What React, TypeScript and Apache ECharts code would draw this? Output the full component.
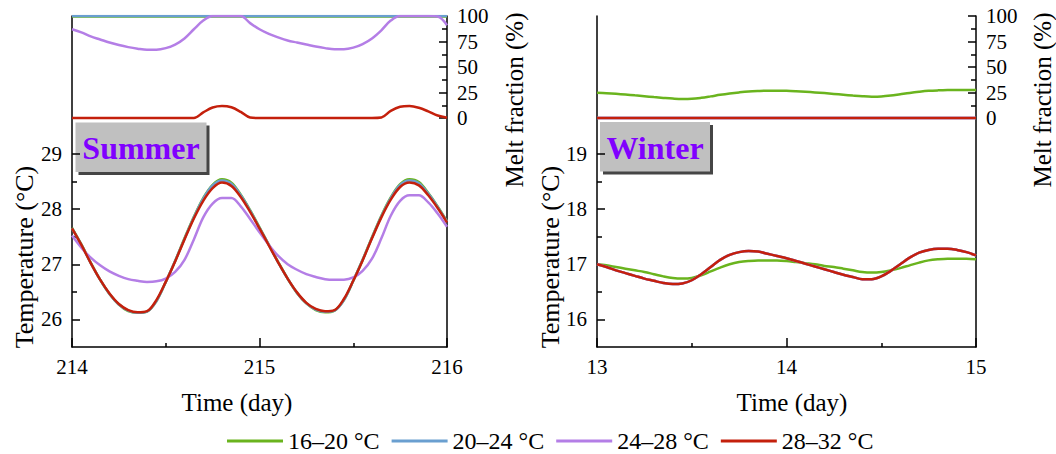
import React, { useEffect, useRef } from "react";
import * as echarts from "echarts";

const FONT = "Liberation Serif";

const seriesNames = ["16–20 °C", "20–24 °C", "24–28 °C", "28–32 °C"];
const seriesColors = ["#6ab41e", "#6a9fd0", "#b47ee6", "#c4200c"];

// Summer: day 214–216, every 0.05 day
const summerTime = [
  214.0, 214.05, 214.1, 214.15, 214.2, 214.25, 214.3, 214.35, 214.4, 214.45,
  214.5, 214.55, 214.6, 214.65, 214.7, 214.75, 214.8, 214.85, 214.9, 214.95,
  215.0, 215.05, 215.1, 215.15, 215.2, 215.25, 215.3, 215.35, 215.4, 215.45,
  215.5, 215.55, 215.6, 215.65, 215.7, 215.75, 215.8, 215.85, 215.9, 215.95, 216.0,
];
const summerTemp1620 = [
  27.66, 27.36, 27.03, 26.72, 26.46, 26.27, 26.15, 26.12, 26.14, 26.33,
  26.68, 27.06, 27.47, 27.86, 28.2, 28.44, 28.54, 28.48, 28.26, 27.98,
  27.67, 27.35, 27.04, 26.74, 26.48, 26.29, 26.17, 26.13, 26.16, 26.35,
  26.7, 27.08, 27.49, 27.88, 28.21, 28.45, 28.54, 28.49, 28.29, 28.05, 27.78,
];
const summerTemp2024 = [
  27.65, 27.35, 27.02, 26.72, 26.46, 26.27, 26.16, 26.12, 26.14, 26.33,
  26.68, 27.06, 27.46, 27.85, 28.19, 28.43, 28.52, 28.46, 28.25, 27.97,
  27.66, 27.35, 27.03, 26.74, 26.48, 26.29, 26.18, 26.14, 26.16, 26.35,
  26.7, 27.08, 27.48, 27.87, 28.2, 28.44, 28.52, 28.47, 28.28, 28.04, 27.77,
];
const summerTemp2428 = [
  27.52, 27.3, 27.12, 26.98, 26.87, 26.79, 26.73, 26.7, 26.68, 26.69,
  26.74, 26.86, 27.08, 27.45, 27.85, 28.1, 28.2, 28.2, 28.05, 27.82,
  27.58, 27.35, 27.15, 27.0, 26.9, 26.82, 26.77, 26.73, 26.72, 26.72,
  26.76, 26.88, 27.1, 27.47, 27.88, 28.15, 28.25, 28.25, 28.12, 27.92, 27.68,
];
const summerTemp2832 = [
  27.65, 27.35, 27.02, 26.72, 26.47, 26.28, 26.17, 26.13, 26.15, 26.35,
  26.68, 27.05, 27.45, 27.83, 28.15, 28.38, 28.48, 28.42, 28.22, 27.95,
  27.65, 27.34, 27.03, 26.74, 26.49, 26.3, 26.19, 26.15, 26.17, 26.37,
  26.7, 27.07, 27.47, 27.85, 28.17, 28.4, 28.48, 28.43, 28.25, 28.02, 27.76,
];
const summerMelt1620 = [
  99.5, 99.5, 99.5, 99.5, 99.5, 99.5, 99.5, 99.5, 99.5, 99.5,
  99.5, 99.5, 99.5, 99.5, 99.5, 99.5, 99.5, 99.5, 99.5, 99.5,
  99.5, 99.5, 99.5, 99.5, 99.5, 99.5, 99.5, 99.5, 99.5, 99.5,
  99.5, 99.5, 99.5, 99.5, 99.5, 99.5, 99.5, 99.5, 99.5, 99.5, 99.5,
];
const summerMelt2024 = [
  100, 100, 100, 100, 100, 100, 100, 100, 100, 100,
  100, 100, 100, 100, 100, 100, 100, 100, 100, 100,
  100, 100, 100, 100, 100, 100, 100, 100, 100, 100,
  100, 100, 100, 100, 100, 100, 100, 100, 100, 100, 100,
];
const summerMelt2428 = [
  87, 84, 80, 77, 74, 71.5, 69.5, 68, 67, 67,
  68.5, 72, 78, 87, 95.5, 100, 100, 100, 100, 93,
  87, 82.5, 79, 76, 74, 72, 70, 68.5, 67.5, 67.5,
  69, 72.5, 78, 86, 95.5, 100, 100, 100, 100, 99.5, 91,
];
const summerMelt2832 = [
  0, 0, 0, 0, 0, 0, 0, 0, 0, 0,
  0, 0, 0, 0, 5.5, 10.3, 11.8, 10.5, 6, 0.5,
  0, 0, 0, 0, 0, 0, 0, 0, 0, 0,
  0, 0, 0, 0.5, 7, 11, 11.7, 10, 6.5, 2.5, 0.3,
];

// Winter: day 13–15, every 0.05 day
const winterTime = [
  13.0, 13.05, 13.1, 13.15, 13.2, 13.25, 13.3, 13.35, 13.4, 13.45,
  13.5, 13.55, 13.6, 13.65, 13.7, 13.75, 13.8, 13.85, 13.9, 13.95,
  14.0, 14.05, 14.1, 14.15, 14.2, 14.25, 14.3, 14.35, 14.4, 14.45,
  14.5, 14.55, 14.6, 14.65, 14.7, 14.75, 14.8, 14.85, 14.9, 14.95, 15.0,
];
const winterTemp1620 = [
  17.0, 16.98, 16.95, 16.92, 16.89, 16.86, 16.82, 16.78, 16.75, 16.74,
  16.75, 16.8, 16.87, 16.94, 17.0, 17.04, 17.06, 17.07, 17.07, 17.07,
  17.06, 17.04, 17.02, 17.0, 16.97, 16.95, 16.92, 16.89, 16.86, 16.85,
  16.86, 16.89, 16.93, 16.98, 17.03, 17.07, 17.09, 17.1, 17.1, 17.1, 17.09,
];
const winterTemp2024 = [
  17.0, 16.95, 16.89, 16.84, 16.79, 16.74, 16.7, 16.66, 16.64, 16.65,
  16.71, 16.82, 16.95, 17.08, 17.17, 17.22, 17.24, 17.23, 17.19, 17.15,
  17.11, 17.06, 17.01, 16.96, 16.91, 16.86, 16.81, 16.77, 16.73, 16.73,
  16.78, 16.88, 17.0, 17.12, 17.21, 17.26, 17.28, 17.28, 17.26, 17.22, 17.16,
];
const winterTemp2428 = [
  17.0, 16.95, 16.89, 16.84, 16.79, 16.74, 16.7, 16.66, 16.64, 16.65,
  16.71, 16.82, 16.95, 17.08, 17.17, 17.22, 17.24, 17.23, 17.19, 17.15,
  17.11, 17.06, 17.01, 16.96, 16.91, 16.86, 16.81, 16.77, 16.73, 16.73,
  16.78, 16.88, 17.0, 17.12, 17.21, 17.26, 17.28, 17.28, 17.26, 17.22, 17.16,
];
const winterTemp2832 = [
  17.0, 16.95, 16.89, 16.84, 16.79, 16.74, 16.7, 16.66, 16.64, 16.65,
  16.71, 16.82, 16.95, 17.08, 17.17, 17.22, 17.24, 17.23, 17.19, 17.15,
  17.11, 17.06, 17.01, 16.96, 16.91, 16.86, 16.81, 16.77, 16.73, 16.73,
  16.78, 16.88, 17.0, 17.12, 17.21, 17.26, 17.28, 17.28, 17.26, 17.22, 17.16,
];
const winterMelt1620 = [
  24.8, 24.3, 23.7, 23.0, 22.2, 21.4, 20.5, 19.7, 19.0, 18.6,
  18.8, 19.8, 21.2, 22.7, 24.0, 25.1, 26.0, 26.5, 26.8, 26.8,
  26.6, 26.2, 25.7, 25.1, 24.4, 23.6, 22.8, 22.0, 21.3, 20.9,
  21.1, 22.0, 23.3, 24.6, 25.7, 26.6, 27.1, 27.4, 27.5, 27.5, 27.4,
];
const winterMelt2024 = [
  0, 0, 0, 0, 0, 0, 0, 0, 0, 0, 0, 0, 0, 0, 0, 0, 0, 0, 0, 0,
  0, 0, 0, 0, 0, 0, 0, 0, 0, 0, 0, 0, 0, 0, 0, 0, 0, 0, 0, 0, 0,
];
const winterMelt2428 = [
  0, 0, 0, 0, 0, 0, 0, 0, 0, 0, 0, 0, 0, 0, 0, 0, 0, 0, 0, 0,
  0, 0, 0, 0, 0, 0, 0, 0, 0, 0, 0, 0, 0, 0, 0, 0, 0, 0, 0, 0, 0,
];
const winterMelt2832 = [
  0, 0, 0, 0, 0, 0, 0, 0, 0, 0, 0, 0, 0, 0, 0, 0, 0, 0, 0, 0,
  0, 0, 0, 0, 0, 0, 0, 0, 0, 0, 0, 0, 0, 0, 0, 0, 0, 0, 0, 0, 0,
];

const summerTempTicks = [26, 27, 28, 29];
const summerTempMinor = [26.5, 27.5, 28.5];
const winterTempTicks = [16, 17, 18, 19];
const winterTempMinor = [16.5, 17.5, 18.5];
const meltTicks = [0, 25, 50, 75, 100];
const meltMinor = [12.5, 37.5, 62.5, 87.5];

const pair = (t: number[], v: number[]) => t.map((x, i) => [x, v[i]]);

export default function App() {
  const ref = useRef<HTMLDivElement>(null);
  useEffect(() => {
    document.body.style.margin = "0";
    const chart = echarts.init(ref.current!, null, { renderer: "svg" });
    const black = "#000";
    const panels = [
      {
        left: 72, right: 1056 - 447, xmin: 214, xmax: 216,
        tmin: 25.5, tmax: 31.5, tt: summerTempTicks, tm: summerTempMinor,
        time: summerTime,
        temps: [summerTemp1620, summerTemp2024, summerTemp2428, summerTemp2832],
        melts: [summerMelt1620, summerMelt2024, summerMelt2428, summerMelt2832],
      },
      {
        left: 597, right: 1056 - 976, xmin: 13, xmax: 15,
        tmin: 15.5, tmax: 21.5, tt: winterTempTicks, tm: winterTempMinor,
        time: winterTime,
        temps: [winterTemp1620, winterTemp2024, winterTemp2428, winterTemp2832],
        melts: [winterMelt1620, winterMelt2024, winterMelt2428, winterMelt2832],
      },
    ];
    const grid: any[] = [];
    const xAxis: any[] = [];
    const yAxis: any[] = [];
    const series: any[] = [];
    const rich = { v: { color: black, fontFamily: FONT, fontSize: 21 } };
    const lbl = { color: black, fontFamily: FONT, fontSize: 21, formatter: "{v|{value}}", rich };
    panels.forEach((p, i) => {
      grid.push({ left: p.left, right: p.right, top: 16, bottom: 454 - 347 });
      xAxis.push({
        type: "value", gridIndex: i, min: p.xmin, max: p.xmax, interval: 1,
        axisLine: { show: true, onZero: false, lineStyle: { color: black, width: 1.5 } },
        axisTick: { show: true, inside: true, length: 9, lineStyle: { color: black, width: 1.5 } },
        minorTick: { show: true, splitNumber: 2, length: 4, lineStyle: { color: black, width: 1.5 } },
        axisLabel: { ...lbl, margin: 9, showMinLabel: true, showMaxLabel: true },
        splitLine: { show: false },
      });
      const base = {
        type: "value", gridIndex: i, splitLine: { show: false },
      };
      yAxis.push({
        ...base, position: "left", min: p.tmin, max: p.tmax,
        axisLine: { show: true, onZero: false, lineStyle: { color: black, width: 1.5 } },
        axisTick: { show: true, inside: true, length: 8, customValues: p.tt, lineStyle: { color: black, width: 1.5 } },
        axisLabel: { ...lbl, margin: 10, customValues: p.tt },
      });
      yAxis.push({
        ...base, position: "left", min: p.tmin, max: p.tmax,
        axisLine: { show: false },
        axisTick: { show: true, inside: true, length: 5, customValues: p.tm, lineStyle: { color: black, width: 1.5 } },
        axisLabel: { show: false },
      });
      yAxis.push({
        ...base, position: "right", min: -224.5, max: 100,
        axisLine: { show: true, onZero: false, lineStyle: { color: black, width: 1.5 } },
        axisTick: { show: true, inside: true, length: 8, customValues: meltTicks, lineStyle: { color: black, width: 1.5 } },
        axisLabel: { ...lbl, margin: 10, customValues: meltTicks },
      });
      yAxis.push({
        ...base, position: "right", min: -224.5, max: 100,
        axisLine: { show: false },
        axisTick: { show: true, inside: true, length: 5, customValues: meltMinor, lineStyle: { color: black, width: 1.5 } },
        axisLabel: { show: false },
      });
      for (let k = 0; k < 4; k++) {
        series.push({
          type: "line", name: seriesNames[k], xAxisIndex: i, yAxisIndex: i * 4 + 2,
          data: pair(p.time, p.melts[k]), showSymbol: false, symbol: "none", smooth: 0.35,
          lineStyle: { width: 2.5, color: seriesColors[k] }, itemStyle: { color: seriesColors[k] },
          z: 2 + k,
        });
      }
      for (let k = 0; k < 4; k++) {
        series.push({
          type: "line", name: seriesNames[k], xAxisIndex: i, yAxisIndex: i * 4,
          data: pair(p.time, p.temps[k]), showSymbol: false, symbol: "none", smooth: 0.35,
          lineStyle: { width: 2.5, color: seriesColors[k] }, itemStyle: { color: seriesColors[k] },
          z: 2 + k,
        });
      }
    });

    const title = (text: string, x: number, y: number, rot: number, size: number) => ({
      type: "text", x, y, rotation: rot, z: 100,
      style: {
        text, fill: black, fontFamily: FONT, fontSize: size,
        textAlign: "center", textVerticalAlign: "middle", align: "center", verticalAlign: "middle",
      },
    });
    const box = (text: string, x: number, y: number, w: number, h: number) => ({
      type: "group", z: 100,
      children: [
        { type: "rect", shape: { x: x + 3, y: y + 3, width: w, height: h }, style: { fill: "#454545" } },
        { type: "rect", shape: { x, y, width: w, height: h }, style: { fill: "#c0c0c0" } },
        {
          type: "text", x: x + w / 2, y: y + h / 2 + 1,
          style: {
            text, fill: "#8000ff", fontFamily: FONT, fontSize: 32, fontWeight: "bold",
            textAlign: "center", textVerticalAlign: "middle", align: "center", verticalAlign: "middle",
          },
        },
      ],
    });

    chart.setOption({
      animation: false,
      textStyle: { fontFamily: FONT, color: black },
      grid, xAxis, yAxis, series,
      legend: {
        data: seriesNames, left: 222, top: 424, icon: "rect",
        itemWidth: 56, itemHeight: 3, itemGap: 12,
        formatter: "{v|{name}}",
        textStyle: { color: black, fontFamily: FONT, fontSize: 24, rich: { v: { color: black, fontFamily: FONT, fontSize: 24 } } },
      },
      graphic: [
        title("Temperature (°C)", 24, 257, Math.PI / 2, 26),
        title("Temperature (°C)", 550, 257, Math.PI / 2, 26),
        title("Melt fraction (%)", 514, 100, Math.PI / 2, 25),
        title("Melt fraction (%)", 1042, 100, Math.PI / 2, 25),
        title("Time (day)", 237, 402, 0, 25),
        title("Time (day)", 792, 402, 0, 25),
        box("Summer", 75.5, 122.5, 131, 49.5),
        box("Winter", 600, 122, 110, 49.5),
      ],
    });
    return () => chart.dispose();
  }, []);
  return <div ref={ref} style={{ width: 1056, height: 454 }} />;
}
